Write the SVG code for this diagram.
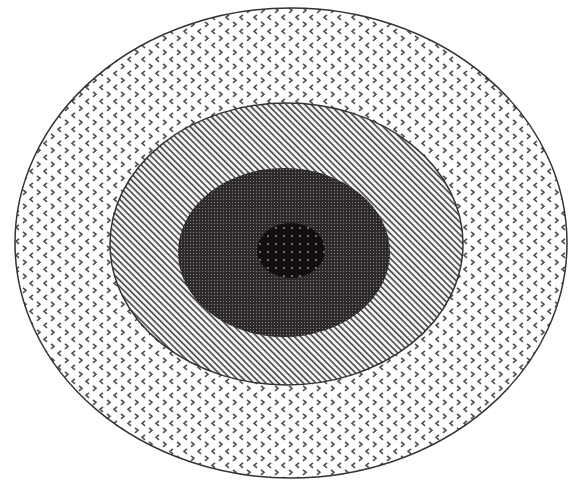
<svg xmlns="http://www.w3.org/2000/svg" width="574" height="482" viewBox="0 0 574 482">
<defs>
<pattern id="chev" width="14" height="14" patternUnits="userSpaceOnUse">
<rect width="14" height="14" fill="#ffffff"/>
<path d="M5 0.8 L2 3.3 L5 5.8" fill="none" stroke="#505050" stroke-width="1.6"/>
<path d="M9 7.8 L12 10.3 L9 12.8" fill="none" stroke="#505050" stroke-width="1.6"/>
</pattern>
<pattern id="hatch" width="4.4" height="4.4" patternUnits="userSpaceOnUse" patternTransform="rotate(-45)">
<rect width="4.4" height="4.4" fill="#f6f6f6"/>
<rect x="0" y="0" width="1.7" height="4.4" fill="#505050"/>
</pattern>
<pattern id="mesh" width="3" height="3" patternUnits="userSpaceOnUse">
<rect width="3" height="3" fill="#2e2a2b"/>
<rect x="1" y="1" width="1" height="1" fill="#808080"/>
</pattern>
<pattern id="sparse" width="8" height="8" patternUnits="userSpaceOnUse">
<rect width="8" height="8" fill="#120d0f"/>
<circle cx="4" cy="4" r="0.9" fill="#9a9a9a"/>
</pattern>
</defs>
<rect width="574" height="482" fill="#ffffff"/>
<g id="outer">
<ellipse cx="291" cy="243" rx="276" ry="235" fill="url(#chev)" stroke="#333" stroke-width="1.5"/>
</g>
<g id="middle">
<ellipse cx="286.5" cy="244" rx="176.5" ry="141" fill="url(#hatch)" stroke="#333" stroke-width="1.5"/>
</g>
<g id="dark">
<ellipse cx="284" cy="252.5" rx="106" ry="84.5" fill="url(#mesh)"/>
</g>
<g id="core">
<ellipse cx="291" cy="250.5" rx="34" ry="27.5" fill="url(#sparse)"/>
</g>
<g id="connectors"/>
</svg>
